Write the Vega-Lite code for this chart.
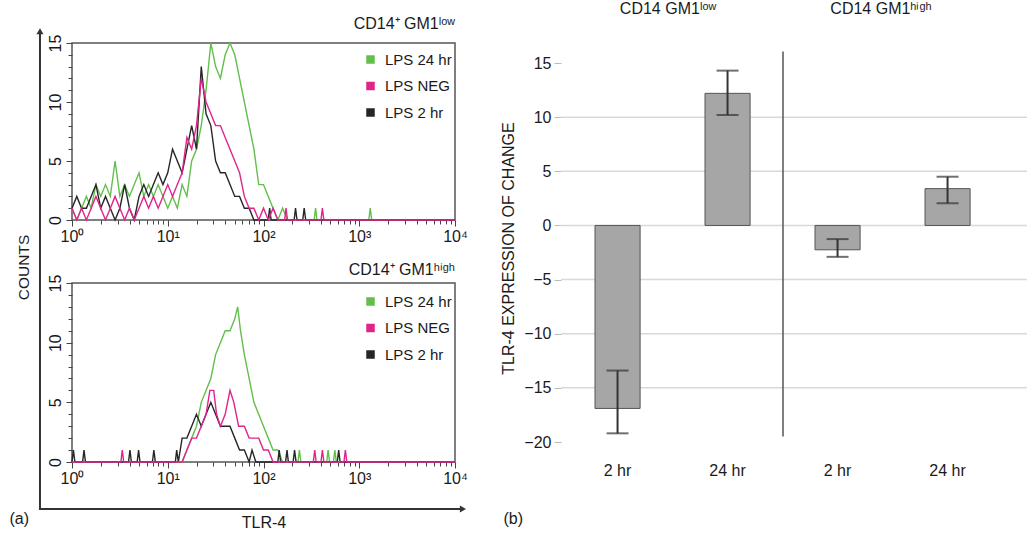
{
"$schema":"https://vega.github.io/schema/vega-lite/v6.json",
"background":"white",
"padding":{"left":8,"top":0,"right":0,"bottom":0},
"bounds":"flush",
"spacing":240,
"resolve":{"legend":{"color":"independent"}},
"config":{"font":"Liberation Sans","axis":{"labelFont":"Liberation Sans","titleFont":"Liberation Sans","labelColor":"#1a1a1a","titleColor":"#1a1a1a","titleFontWeight":"normal"},"legend":{"labelFont":"Liberation Sans"},"title":{"font":"Liberation Sans"}},
"datasets":{
"hist":[
{"p":"t","s":"LPS 24 hr","x":1,"c":1},{"p":"t","s":"LPS 24 hr","x":1.122,"c":0},{"p":"t","s":"LPS 24 hr","x":1.259,"c":1},{"p":"t","s":"LPS 24 hr","x":1.413,"c":2},{"p":"t","s":"LPS 24 hr","x":1.585,"c":1},{"p":"t","s":"LPS 24 hr","x":1.778,"c":3},{"p":"t","s":"LPS 24 hr","x":1.995,"c":2},{"p":"t","s":"LPS 24 hr","x":2.239,"c":3},{"p":"t","s":"LPS 24 hr","x":2.512,"c":2},{"p":"t","s":"LPS 24 hr","x":2.818,"c":5},{"p":"t","s":"LPS 24 hr","x":3.162,"c":2},{"p":"t","s":"LPS 24 hr","x":3.548,"c":3},{"p":"t","s":"LPS 24 hr","x":3.981,"c":2},{"p":"t","s":"LPS 24 hr","x":4.467,"c":3},{"p":"t","s":"LPS 24 hr","x":5.012,"c":4},{"p":"t","s":"LPS 24 hr","x":5.623,"c":2},{"p":"t","s":"LPS 24 hr","x":6.31,"c":3},{"p":"t","s":"LPS 24 hr","x":7.079,"c":2},{"p":"t","s":"LPS 24 hr","x":7.943,"c":3},{"p":"t","s":"LPS 24 hr","x":8.913,"c":2},{"p":"t","s":"LPS 24 hr","x":10,"c":1},{"p":"t","s":"LPS 24 hr","x":11.22,"c":2},{"p":"t","s":"LPS 24 hr","x":12.59,"c":1},{"p":"t","s":"LPS 24 hr","x":14.13,"c":3},{"p":"t","s":"LPS 24 hr","x":15.85,"c":2},{"p":"t","s":"LPS 24 hr","x":17.78,"c":5},{"p":"t","s":"LPS 24 hr","x":19.95,"c":6},{"p":"t","s":"LPS 24 hr","x":22.39,"c":8},{"p":"t","s":"LPS 24 hr","x":25.12,"c":11},{"p":"t","s":"LPS 24 hr","x":28.18,"c":15},{"p":"t","s":"LPS 24 hr","x":31.62,"c":13},{"p":"t","s":"LPS 24 hr","x":35.48,"c":12},{"p":"t","s":"LPS 24 hr","x":39.81,"c":14},{"p":"t","s":"LPS 24 hr","x":44.67,"c":15},{"p":"t","s":"LPS 24 hr","x":50.12,"c":14},{"p":"t","s":"LPS 24 hr","x":56.23,"c":12},{"p":"t","s":"LPS 24 hr","x":63.1,"c":10},{"p":"t","s":"LPS 24 hr","x":70.79,"c":8},{"p":"t","s":"LPS 24 hr","x":79.43,"c":6},{"p":"t","s":"LPS 24 hr","x":89.13,"c":3},{"p":"t","s":"LPS 24 hr","x":100,"c":3},{"p":"t","s":"LPS 24 hr","x":112.2,"c":2},{"p":"t","s":"LPS 24 hr","x":125.9,"c":1},{"p":"t","s":"LPS 24 hr","x":141.3,"c":0},{"p":"t","s":"LPS 24 hr","x":158.5,"c":1},{"p":"t","s":"LPS 24 hr","x":177.8,"c":0},{"p":"t","s":"LPS 24 hr","x":338,"c":0},{"p":"t","s":"LPS 24 hr","x":350,"c":1},{"p":"t","s":"LPS 24 hr","x":362,"c":0},{"p":"t","s":"LPS 24 hr","x":1259,"c":0},{"p":"t","s":"LPS 24 hr","x":1303,"c":1},{"p":"t","s":"LPS 24 hr","x":1350,"c":0},{"p":"t","s":"LPS 24 hr","x":10000,"c":0},
{"p":"t","s":"LPS 2 hr","x":1,"c":1},{"p":"t","s":"LPS 2 hr","x":1.122,"c":2},{"p":"t","s":"LPS 2 hr","x":1.259,"c":1},{"p":"t","s":"LPS 2 hr","x":1.413,"c":1},{"p":"t","s":"LPS 2 hr","x":1.585,"c":2},{"p":"t","s":"LPS 2 hr","x":1.778,"c":3},{"p":"t","s":"LPS 2 hr","x":1.995,"c":1},{"p":"t","s":"LPS 2 hr","x":2.239,"c":2},{"p":"t","s":"LPS 2 hr","x":2.512,"c":1},{"p":"t","s":"LPS 2 hr","x":2.818,"c":0},{"p":"t","s":"LPS 2 hr","x":3.162,"c":1},{"p":"t","s":"LPS 2 hr","x":3.548,"c":3},{"p":"t","s":"LPS 2 hr","x":3.981,"c":1},{"p":"t","s":"LPS 2 hr","x":4.467,"c":0},{"p":"t","s":"LPS 2 hr","x":5.012,"c":2},{"p":"t","s":"LPS 2 hr","x":5.623,"c":3},{"p":"t","s":"LPS 2 hr","x":6.31,"c":2},{"p":"t","s":"LPS 2 hr","x":7.079,"c":3},{"p":"t","s":"LPS 2 hr","x":7.943,"c":4},{"p":"t","s":"LPS 2 hr","x":8.913,"c":3},{"p":"t","s":"LPS 2 hr","x":10,"c":4},{"p":"t","s":"LPS 2 hr","x":11.22,"c":6},{"p":"t","s":"LPS 2 hr","x":12.59,"c":5},{"p":"t","s":"LPS 2 hr","x":14.13,"c":4},{"p":"t","s":"LPS 2 hr","x":15.85,"c":6},{"p":"t","s":"LPS 2 hr","x":17.78,"c":8},{"p":"t","s":"LPS 2 hr","x":19.95,"c":6},{"p":"t","s":"LPS 2 hr","x":22.39,"c":13},{"p":"t","s":"LPS 2 hr","x":25.12,"c":9},{"p":"t","s":"LPS 2 hr","x":28.18,"c":8},{"p":"t","s":"LPS 2 hr","x":31.62,"c":5},{"p":"t","s":"LPS 2 hr","x":35.48,"c":4},{"p":"t","s":"LPS 2 hr","x":39.81,"c":4},{"p":"t","s":"LPS 2 hr","x":44.67,"c":3},{"p":"t","s":"LPS 2 hr","x":50.12,"c":2},{"p":"t","s":"LPS 2 hr","x":56.23,"c":2},{"p":"t","s":"LPS 2 hr","x":63.1,"c":1},{"p":"t","s":"LPS 2 hr","x":70.79,"c":1},{"p":"t","s":"LPS 2 hr","x":79.43,"c":0},{"p":"t","s":"LPS 2 hr","x":112,"c":0},{"p":"t","s":"LPS 2 hr","x":116,"c":1},{"p":"t","s":"LPS 2 hr","x":120,"c":0},{"p":"t","s":"LPS 2 hr","x":209,"c":0},{"p":"t","s":"LPS 2 hr","x":216,"c":1},{"p":"t","s":"LPS 2 hr","x":224,"c":0},{"p":"t","s":"LPS 2 hr","x":257,"c":0},{"p":"t","s":"LPS 2 hr","x":266,"c":1},{"p":"t","s":"LPS 2 hr","x":276,"c":0},{"p":"t","s":"LPS 2 hr","x":10000,"c":0},
{"p":"t","s":"LPS NEG","x":1,"c":1},{"p":"t","s":"LPS NEG","x":1.122,"c":0},{"p":"t","s":"LPS NEG","x":1.259,"c":1},{"p":"t","s":"LPS NEG","x":1.413,"c":0},{"p":"t","s":"LPS NEG","x":1.585,"c":1},{"p":"t","s":"LPS NEG","x":1.778,"c":2},{"p":"t","s":"LPS NEG","x":1.995,"c":1},{"p":"t","s":"LPS NEG","x":2.239,"c":0},{"p":"t","s":"LPS NEG","x":2.512,"c":1},{"p":"t","s":"LPS NEG","x":2.818,"c":2},{"p":"t","s":"LPS NEG","x":3.162,"c":1},{"p":"t","s":"LPS NEG","x":3.548,"c":0},{"p":"t","s":"LPS NEG","x":3.981,"c":1},{"p":"t","s":"LPS NEG","x":4.467,"c":0},{"p":"t","s":"LPS NEG","x":5.012,"c":1},{"p":"t","s":"LPS NEG","x":5.623,"c":2},{"p":"t","s":"LPS NEG","x":6.31,"c":1},{"p":"t","s":"LPS NEG","x":7.079,"c":2},{"p":"t","s":"LPS NEG","x":7.943,"c":1},{"p":"t","s":"LPS NEG","x":8.913,"c":2},{"p":"t","s":"LPS NEG","x":10,"c":3},{"p":"t","s":"LPS NEG","x":11.22,"c":2},{"p":"t","s":"LPS NEG","x":12.59,"c":3},{"p":"t","s":"LPS NEG","x":14.13,"c":4},{"p":"t","s":"LPS NEG","x":15.85,"c":7},{"p":"t","s":"LPS NEG","x":17.78,"c":6},{"p":"t","s":"LPS NEG","x":19.95,"c":8},{"p":"t","s":"LPS NEG","x":22.39,"c":12},{"p":"t","s":"LPS NEG","x":25.12,"c":10},{"p":"t","s":"LPS NEG","x":28.18,"c":9},{"p":"t","s":"LPS NEG","x":31.62,"c":8},{"p":"t","s":"LPS NEG","x":35.48,"c":8},{"p":"t","s":"LPS NEG","x":39.81,"c":7},{"p":"t","s":"LPS NEG","x":44.67,"c":6},{"p":"t","s":"LPS NEG","x":50.12,"c":5},{"p":"t","s":"LPS NEG","x":56.23,"c":4},{"p":"t","s":"LPS NEG","x":63.1,"c":2},{"p":"t","s":"LPS NEG","x":70.79,"c":1},{"p":"t","s":"LPS NEG","x":79.43,"c":1},{"p":"t","s":"LPS NEG","x":89.13,"c":0},{"p":"t","s":"LPS NEG","x":100,"c":1},{"p":"t","s":"LPS NEG","x":112.2,"c":0},{"p":"t","s":"LPS NEG","x":125.9,"c":1},{"p":"t","s":"LPS NEG","x":141.3,"c":0},{"p":"t","s":"LPS NEG","x":166,"c":0},{"p":"t","s":"LPS NEG","x":172,"c":1},{"p":"t","s":"LPS NEG","x":178,"c":0},{"p":"t","s":"LPS NEG","x":398,"c":0},{"p":"t","s":"LPS NEG","x":412,"c":1},{"p":"t","s":"LPS NEG","x":427,"c":0},{"p":"t","s":"LPS NEG","x":10000,"c":0},
{"p":"b","s":"LPS 24 hr","x":1,"c":0},{"p":"b","s":"LPS 24 hr","x":14.13,"c":0},{"p":"b","s":"LPS 24 hr","x":15.85,"c":1},{"p":"b","s":"LPS 24 hr","x":17.78,"c":2},{"p":"b","s":"LPS 24 hr","x":19.95,"c":3},{"p":"b","s":"LPS 24 hr","x":22.39,"c":5},{"p":"b","s":"LPS 24 hr","x":25.12,"c":6},{"p":"b","s":"LPS 24 hr","x":28.18,"c":7},{"p":"b","s":"LPS 24 hr","x":31.62,"c":9},{"p":"b","s":"LPS 24 hr","x":35.48,"c":10},{"p":"b","s":"LPS 24 hr","x":39.81,"c":11},{"p":"b","s":"LPS 24 hr","x":44.67,"c":11},{"p":"b","s":"LPS 24 hr","x":50.12,"c":12},{"p":"b","s":"LPS 24 hr","x":53.7,"c":13},{"p":"b","s":"LPS 24 hr","x":57.54,"c":11},{"p":"b","s":"LPS 24 hr","x":63.1,"c":9},{"p":"b","s":"LPS 24 hr","x":70.79,"c":7},{"p":"b","s":"LPS 24 hr","x":79.43,"c":5},{"p":"b","s":"LPS 24 hr","x":89.13,"c":4},{"p":"b","s":"LPS 24 hr","x":100,"c":3},{"p":"b","s":"LPS 24 hr","x":112.2,"c":2},{"p":"b","s":"LPS 24 hr","x":125.9,"c":1},{"p":"b","s":"LPS 24 hr","x":141.3,"c":1},{"p":"b","s":"LPS 24 hr","x":158.5,"c":0},{"p":"b","s":"LPS 24 hr","x":229,"c":0},{"p":"b","s":"LPS 24 hr","x":237,"c":1},{"p":"b","s":"LPS 24 hr","x":246,"c":0},{"p":"b","s":"LPS 24 hr","x":457,"c":0},{"p":"b","s":"LPS 24 hr","x":473,"c":1},{"p":"b","s":"LPS 24 hr","x":490,"c":0},{"p":"b","s":"LPS 24 hr","x":537,"c":0},{"p":"b","s":"LPS 24 hr","x":556,"c":1},{"p":"b","s":"LPS 24 hr","x":576,"c":0},{"p":"b","s":"LPS 24 hr","x":10000,"c":0},
{"p":"b","s":"LPS 2 hr","x":1,"c":0},{"p":"b","s":"LPS 2 hr","x":1.035,"c":1},{"p":"b","s":"LPS 2 hr","x":1.072,"c":0},{"p":"b","s":"LPS 2 hr","x":1.29,"c":0},{"p":"b","s":"LPS 2 hr","x":1.335,"c":1},{"p":"b","s":"LPS 2 hr","x":1.383,"c":0},{"p":"b","s":"LPS 2 hr","x":3.89,"c":0},{"p":"b","s":"LPS 2 hr","x":4.03,"c":1},{"p":"b","s":"LPS 2 hr","x":4.17,"c":0},{"p":"b","s":"LPS 2 hr","x":4.79,"c":0},{"p":"b","s":"LPS 2 hr","x":4.96,"c":1},{"p":"b","s":"LPS 2 hr","x":5.13,"c":0},{"p":"b","s":"LPS 2 hr","x":6.92,"c":0},{"p":"b","s":"LPS 2 hr","x":7.16,"c":1},{"p":"b","s":"LPS 2 hr","x":7.42,"c":0},{"p":"b","s":"LPS 2 hr","x":12,"c":0},{"p":"b","s":"LPS 2 hr","x":12.4,"c":1},{"p":"b","s":"LPS 2 hr","x":12.9,"c":0},{"p":"b","s":"LPS 2 hr","x":14.13,"c":2},{"p":"b","s":"LPS 2 hr","x":15.85,"c":2},{"p":"b","s":"LPS 2 hr","x":17.78,"c":3},{"p":"b","s":"LPS 2 hr","x":19.95,"c":4},{"p":"b","s":"LPS 2 hr","x":22.39,"c":3},{"p":"b","s":"LPS 2 hr","x":25.12,"c":4},{"p":"b","s":"LPS 2 hr","x":28.18,"c":5},{"p":"b","s":"LPS 2 hr","x":31.62,"c":4},{"p":"b","s":"LPS 2 hr","x":35.48,"c":3},{"p":"b","s":"LPS 2 hr","x":39.81,"c":3},{"p":"b","s":"LPS 2 hr","x":44.67,"c":3},{"p":"b","s":"LPS 2 hr","x":50.12,"c":2},{"p":"b","s":"LPS 2 hr","x":56.23,"c":1},{"p":"b","s":"LPS 2 hr","x":63.1,"c":1},{"p":"b","s":"LPS 2 hr","x":70.79,"c":0},{"p":"b","s":"LPS 2 hr","x":75.9,"c":1},{"p":"b","s":"LPS 2 hr","x":83.2,"c":0},{"p":"b","s":"LPS 2 hr","x":141,"c":0},{"p":"b","s":"LPS 2 hr","x":146,"c":1},{"p":"b","s":"LPS 2 hr","x":151,"c":0},{"p":"b","s":"LPS 2 hr","x":170,"c":0},{"p":"b","s":"LPS 2 hr","x":176,"c":1},{"p":"b","s":"LPS 2 hr","x":182,"c":0},{"p":"b","s":"LPS 2 hr","x":204,"c":0},{"p":"b","s":"LPS 2 hr","x":211,"c":1},{"p":"b","s":"LPS 2 hr","x":219,"c":0},{"p":"b","s":"LPS 2 hr","x":589,"c":0},{"p":"b","s":"LPS 2 hr","x":610,"c":1},{"p":"b","s":"LPS 2 hr","x":631,"c":0},{"p":"b","s":"LPS 2 hr","x":10000,"c":0},
{"p":"b","s":"LPS NEG","x":1,"c":0},{"p":"b","s":"LPS NEG","x":3.24,"c":0},{"p":"b","s":"LPS NEG","x":3.35,"c":1},{"p":"b","s":"LPS NEG","x":3.47,"c":0},{"p":"b","s":"LPS NEG","x":14.13,"c":0},{"p":"b","s":"LPS NEG","x":15.85,"c":1},{"p":"b","s":"LPS NEG","x":17.78,"c":2},{"p":"b","s":"LPS NEG","x":19.95,"c":2},{"p":"b","s":"LPS NEG","x":22.39,"c":3},{"p":"b","s":"LPS NEG","x":25.12,"c":4},{"p":"b","s":"LPS NEG","x":27.54,"c":6},{"p":"b","s":"LPS NEG","x":30.2,"c":6},{"p":"b","s":"LPS NEG","x":32.36,"c":4},{"p":"b","s":"LPS NEG","x":35.48,"c":3},{"p":"b","s":"LPS NEG","x":39.81,"c":4},{"p":"b","s":"LPS NEG","x":44.67,"c":6},{"p":"b","s":"LPS NEG","x":48.98,"c":5},{"p":"b","s":"LPS NEG","x":54.95,"c":3},{"p":"b","s":"LPS NEG","x":63.1,"c":3},{"p":"b","s":"LPS NEG","x":70.79,"c":2},{"p":"b","s":"LPS NEG","x":79.43,"c":2},{"p":"b","s":"LPS NEG","x":89.13,"c":2},{"p":"b","s":"LPS NEG","x":100,"c":1},{"p":"b","s":"LPS NEG","x":112.2,"c":1},{"p":"b","s":"LPS NEG","x":125.9,"c":0},{"p":"b","s":"LPS NEG","x":331,"c":0},{"p":"b","s":"LPS NEG","x":343,"c":1},{"p":"b","s":"LPS NEG","x":355,"c":0},{"p":"b","s":"LPS NEG","x":398,"c":0},{"p":"b","s":"LPS NEG","x":412,"c":1},{"p":"b","s":"LPS NEG","x":427,"c":0},{"p":"b","s":"LPS NEG","x":692,"c":0},{"p":"b","s":"LPS NEG","x":716,"c":1},{"p":"b","s":"LPS NEG","x":742,"c":0},{"p":"b","s":"LPS NEG","x":10000,"c":0}
],
"subtitles":[{"p":"t","label":"CD14⁺ GM1ˡᵒʷ","x":10000,"y":16.19},{"p":"b","label":"CD14⁺ GM1ʰⁱᵍʰ","x":10000,"y":15.67}],
"arrows":[{"a":"v","x":0.463,"y":-4.02,"x2":0.463,"y2":36.1},{"a":"h","x":0.463,"y":-3.94,"x2":12110,"y2":-3.94}],
"bars":[{"k":"L2","v":-16.9,"lo":-19.2,"hi":-13.4},{"k":"L24","v":12.2,"lo":10.2,"hi":14.3},{"k":"H2","v":-2.25,"lo":-2.9,"hi":-1.26},{"k":"H24","v":3.4,"lo":2.05,"hi":4.5}],
"grid":[{"gy":-15},{"gy":-10},{"gy":-5},{"gy":0},{"gy":5},{"gy":10}],
"sep":[{"g":"CD14 GM1ʰⁱᵍʰ","y":-19.5,"y2":16.07}]
},
"vconcat":[
{"hconcat":[
{"width":383,"height":177,"view":{"stroke":"#555","strokeWidth":1.5},
 "resolve":{"scale":{"y":"independent"}},
 "layer":[
 {"data":{"name":"hist"},
 "transform":[{"filter":"datum.p=='t'"}],
 "mark":{"type":"line","strokeWidth":1.4},
 "encoding":{
  "x":{"field":"x","type":"quantitative","scale":{"type":"log","domain":[1,10000],"nice":false},
   "axis":{"title":null,"values":[1,2,3,4,5,6,7,8,9,10,20,30,40,50,60,70,80,90,100,200,300,400,500,600,700,800,900,1000,2000,3000,4000,5000,6000,7000,8000,9000,10000],"labelExpr":"datum.value==1?'10⁰':datum.value==10?'10¹':datum.value==100?'10²':datum.value==1000?'10³':datum.value==10000?'10⁴':''","labelOverlap":false,"labelFlush":false,"labelFontSize":16,"labelPadding":2,"tickSize":{"condition":{"test":"datum.value==1||datum.value==10||datum.value==100||datum.value==1000||datum.value==10000","value":6},"value":4},"tickColor":"#444","domain":false,"grid":false}},
  "y":{"field":"c","type":"quantitative","scale":{"domain":[0,15],"nice":false},
   "axis":{"title":"COUNTS","titleAngle":270,"titleX":-49,"titleY":224,"titleAlign":"center","titleBaseline":"middle","titleFontSize":15.5,"values":[0,1,2,3,4,5,6,7,8,9,10,11,12,13,14,15],"labelExpr":"datum.value%5==0?datum.label:''","labelAngle":270,"labelAlign":"center","labelBaseline":"bottom","labelPadding":3,"labelFontSize":16,"labelOverlap":false,"labelFlush":false,"tickSize":{"condition":{"test":"datum.value%5==0","value":6},"value":4},"tickColor":"#444","domain":false,"grid":false}},
  "color":{"field":"s","type":"nominal","scale":{"domain":["LPS 24 hr","LPS NEG","LPS 2 hr"],"range":["#63bf4b","#e1238c","#262626"]},
   "legend":{"orient":"none","legendX":291,"legendY":9,"title":null,"symbolType":"square","symbolSize":16,"symbolStrokeWidth":4.5,"labelFontSize":15,"labelColor":"#1a1a1a","rowPadding":3.5,"labelOffset":7,"padding":0}}
 }},
 {"data":{"name":"subtitles"},"transform":[{"filter":"datum.p=='t'"}],
  "mark":{"type":"text","align":"right","baseline":"alphabetic","fontSize":16,"color":"#1a1a1a","font":"Liberation Sans"},
  "encoding":{"x":{"field":"x","type":"quantitative"},"y":{"field":"y","type":"quantitative","scale":{"domain":[0,15],"nice":false},"axis":null},"text":{"field":"label"}}}
 ]
},
{"width":467,"height":399,"view":{"stroke":null},
 "resolve":{"scale":{"x":"independent"}},
 "layer":[
  {"layer":[
   {"data":{"name":"grid"},"mark":{"type":"rule","color":"#d9d9d9","strokeWidth":1.5},
    "encoding":{"y":{"field":"gy","type":"quantitative","title":"TLR-4 EXPRESSION OF CHANGE"}}},
   {"data":{"name":"bars"},"mark":{"type":"bar","fill":"#a6a6a6","stroke":"#555","strokeWidth":1},
    "encoding":{
     "x":{"field":"k","type":"nominal","sort":null,"scale":{"domain":["L2","L24","H2","H24"],"paddingInner":0.59,"paddingOuter":0.4177,"align":0.37},
      "axis":{"orient":"bottom","labelExpr":"(datum.value=='L24'||datum.value=='H24')?'24 hr':'2 hr'","labelFontSize":16,"labelPadding":20,"labelAngle":0,"ticks":false,"domain":false,"title":"(b)","titleX":-58,"titleY":76,"titleAlign":"left","titleBaseline":"middle","titleFontSize":16}},
     "y":{"field":"v","type":"quantitative","title":"TLR-4 EXPRESSION OF CHANGE","scale":{"domain":[-20,16.85],"nice":false,"zero":false},
      "axis":{"values":[-20,-15,-10,-5,0,5,10,15],"labelFontSize":16,"labelPadding":3,"tickSize":7,"tickColor":"#bbb","domain":false,"grid":false,"titleFontSize":16,"titleAngle":270,"titleX":-53,"titleY":205,"titleAlign":"center","titleBaseline":"middle"}}}},
   {"data":{"name":"bars"},"mark":{"type":"rule","color":"#333","strokeWidth":2},
    "encoding":{"x":{"field":"k","type":"nominal","sort":null},"y":{"field":"lo","type":"quantitative","title":"TLR-4 EXPRESSION OF CHANGE"},"y2":{"field":"hi"}}},
   {"data":{"name":"bars"},"mark":{"type":"tick","color":"#333","size":22,"thickness":2},
    "encoding":{"x":{"field":"k","type":"nominal","sort":null},"y":{"field":"lo","type":"quantitative","title":"TLR-4 EXPRESSION OF CHANGE"}}},
   {"data":{"name":"bars"},"mark":{"type":"tick","color":"#333","size":22,"thickness":2},
    "encoding":{"x":{"field":"k","type":"nominal","sort":null},"y":{"field":"hi","type":"quantitative","title":"TLR-4 EXPRESSION OF CHANGE"}}}
  ]},
  {"data":{"name":"sep"},"mark":{"type":"rule","color":"#555","strokeWidth":1.5},
   "encoding":{
    "x":{"field":"g","type":"nominal","bandPosition":0,"scale":{"type":"band","domain":["CD14 GM1ˡᵒʷ","CD14 GM1ʰⁱᵍʰ"],"paddingInner":0,"paddingOuter":0.0614,"align":0.074},
     "axis":{"orient":"top","domain":false,"ticks":false,"labelFontSize":16,"labelPadding":27,"labelAngle":0,"title":null,"labelColor":"#1a1a1a","labelOffset":{"condition":{"test":"datum.value=='CD14 GM1ʰⁱᵍʰ'","value":-12},"value":-5}}},
    "y":{"field":"y","type":"quantitative","title":"TLR-4 EXPRESSION OF CHANGE","scale":{"domain":[-20,16.85],"nice":false,"zero":false}},
    "y2":{"field":"y2"}}}
 ]}
],"spacing":106,"bounds":"flush"},
{"width":383,"height":179,"view":{"stroke":"#555","strokeWidth":1.5},
 "resolve":{"scale":{"y":"independent"}},
 "layer":[
 {"data":{"name":"hist"},
  "transform":[{"filter":"datum.p=='b'"}],
  "mark":{"type":"line","strokeWidth":1.4},
  "encoding":{
   "x":{"field":"x","type":"quantitative","scale":{"type":"log","domain":[1,10000],"nice":false},
    "axis":{"title":"TLR-4","titleY":60,"titleBaseline":"middle","titleFontSize":16,"values":[1,2,3,4,5,6,7,8,9,10,20,30,40,50,60,70,80,90,100,200,300,400,500,600,700,800,900,1000,2000,3000,4000,5000,6000,7000,8000,9000,10000],"labelExpr":"datum.value==1?'10⁰':datum.value==10?'10¹':datum.value==100?'10²':datum.value==1000?'10³':datum.value==10000?'10⁴':''","labelOverlap":false,"labelFlush":false,"labelFontSize":16,"labelPadding":2,"tickSize":{"condition":{"test":"datum.value==1||datum.value==10||datum.value==100||datum.value==1000||datum.value==10000","value":6},"value":4},"tickColor":"#444","domain":false,"grid":false}},
   "y":{"field":"c","type":"quantitative","scale":{"domain":[0,15],"nice":false},
    "axis":{"title":"(a)","titleAngle":0,"titleX":-63,"titleY":235,"titleAlign":"left","titleBaseline":"middle","titleFontSize":16,"values":[0,1,2,3,4,5,6,7,8,9,10,11,12,13,14,15],"labelExpr":"datum.value%5==0?datum.label:''","labelAngle":270,"labelAlign":"center","labelBaseline":"bottom","labelPadding":3,"labelFontSize":16,"labelOverlap":false,"labelFlush":false,"tickSize":{"condition":{"test":"datum.value%5==0","value":6},"value":4},"tickColor":"#444","domain":false,"grid":false}},
   "color":{"field":"s","type":"nominal","scale":{"domain":["LPS 24 hr","LPS NEG","LPS 2 hr"],"range":["#63bf4b","#e1238c","#262626"]},
    "legend":{"orient":"none","legendX":291,"legendY":11,"title":null,"symbolType":"square","symbolSize":16,"symbolStrokeWidth":4.5,"labelFontSize":15,"labelColor":"#1a1a1a","rowPadding":3.5,"labelOffset":7,"padding":0}}
  }},
 {"data":{"name":"subtitles"},"transform":[{"filter":"datum.p=='b'"}],
  "mark":{"type":"text","align":"right","baseline":"alphabetic","fontSize":16,"color":"#1a1a1a","font":"Liberation Sans"},
  "encoding":{"x":{"field":"x","type":"quantitative"},"y":{"field":"y","type":"quantitative","scale":{"domain":[0,15],"nice":false},"axis":null},"text":{"field":"label"}}},
 {"data":{"name":"arrows"},"mark":{"type":"rule","color":"#333","strokeWidth":2},
  "encoding":{"x":{"field":"x","type":"quantitative"},"x2":{"field":"x2"},"y":{"field":"y","type":"quantitative","scale":{"domain":[0,15],"nice":false},"axis":null},"y2":{"field":"y2"}}},
 {"data":{"name":"arrows"},"transform":[{"filter":"datum.a=='v'"}],"mark":{"type":"point","shape":"triangle-up","filled":true,"size":50,"color":"#333","opacity":1},
  "encoding":{"x":{"field":"x2","type":"quantitative"},"y":{"field":"y2","type":"quantitative","scale":{"domain":[0,15],"nice":false},"axis":null}}},
 {"data":{"name":"arrows"},"transform":[{"filter":"datum.a=='h'"}],"mark":{"type":"point","shape":"triangle-right","filled":true,"size":50,"color":"#333","opacity":1},
  "encoding":{"x":{"field":"x2","type":"quantitative"},"y":{"field":"y2","type":"quantitative","scale":{"domain":[0,15],"nice":false},"axis":null}}}
 ]
}
]
}
